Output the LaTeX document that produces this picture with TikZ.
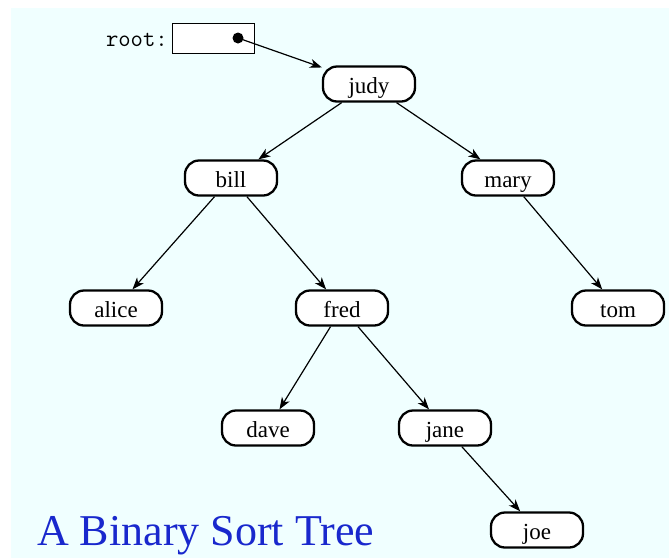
\documentclass[tikz,border=0pt]{standalone}
\usepackage{fontspec}
\setmainfont{Liberation Serif}
\newfontfamily\lmtt{Latin Modern Mono}
\usetikzlibrary{arrows.meta}
\definecolor{bgcyan}{RGB}{240,255,255}
\definecolor{titleblue}{RGB}{25,40,205}
\begin{document}
\begin{tikzpicture}[x=1pt,y=-1pt,
  treenode/.style={draw,line width=2.3pt,rounded corners=14pt,fill=white,
    minimum width=92pt,minimum height=35pt,inner sep=0pt,
    text height=19pt,text depth=0pt,
    font=\fontsize{23}{25}\selectfont},
  link/.style={line width=1.2pt,-{Stealth[length=12pt,width=9pt,inset=3.5pt]}}]
\useasboundingbox (0,0) rectangle (669,558);
\fill[bgcyan] (11,8) rectangle (669,558);
% root pointer
\node[anchor=base east,font=\lmtt\fontsize{24}{26}\selectfont,inner sep=0pt] (rootlabel) at (168,46) {root:};
\node[draw,fill=white,line width=0.9pt,minimum width=82pt,minimum height=30pt,inner sep=0pt] (rootbox) at (213,38) {};
\coordinate (rootdot) at (238,38);
\fill (rootdot) circle (5.5pt);
% nodes
\node[treenode] (judy)  at (369,84)  {judy};
\node[treenode] (bill)  at (231,178) {bill};
\node[treenode] (mary)  at (508,178) {mary};
\node[treenode] (alice) at (116,308) {alice};
\node[treenode] (fred)  at (342,308) {fred};
\node[treenode] (tom)   at (618,308) {tom};
\node[treenode] (dave)  at (268,428) {dave};
\node[treenode] (jane)  at (445,428) {jane};
\node[treenode] (joe)   at (537,530) {joe};
% connectors
\draw[link] (rootdot) -- (judy);
\draw[link] (judy) -- (bill);
\draw[link] (judy) -- (mary);
\draw[link] (bill) -- (alice);
\draw[link] (bill) -- (fred);
\draw[link] (mary) -- (tom);
\draw[link] (fred) -- (dave);
\draw[link] (fred) -- (jane);
\draw[link] (jane) -- (joe);
% title
\node[anchor=base west,text=titleblue,font=\fontsize{44}{48}\selectfont,inner sep=0pt] (title) at (37,545) {A Binary Sort Tree};
\end{tikzpicture}
\end{document}
